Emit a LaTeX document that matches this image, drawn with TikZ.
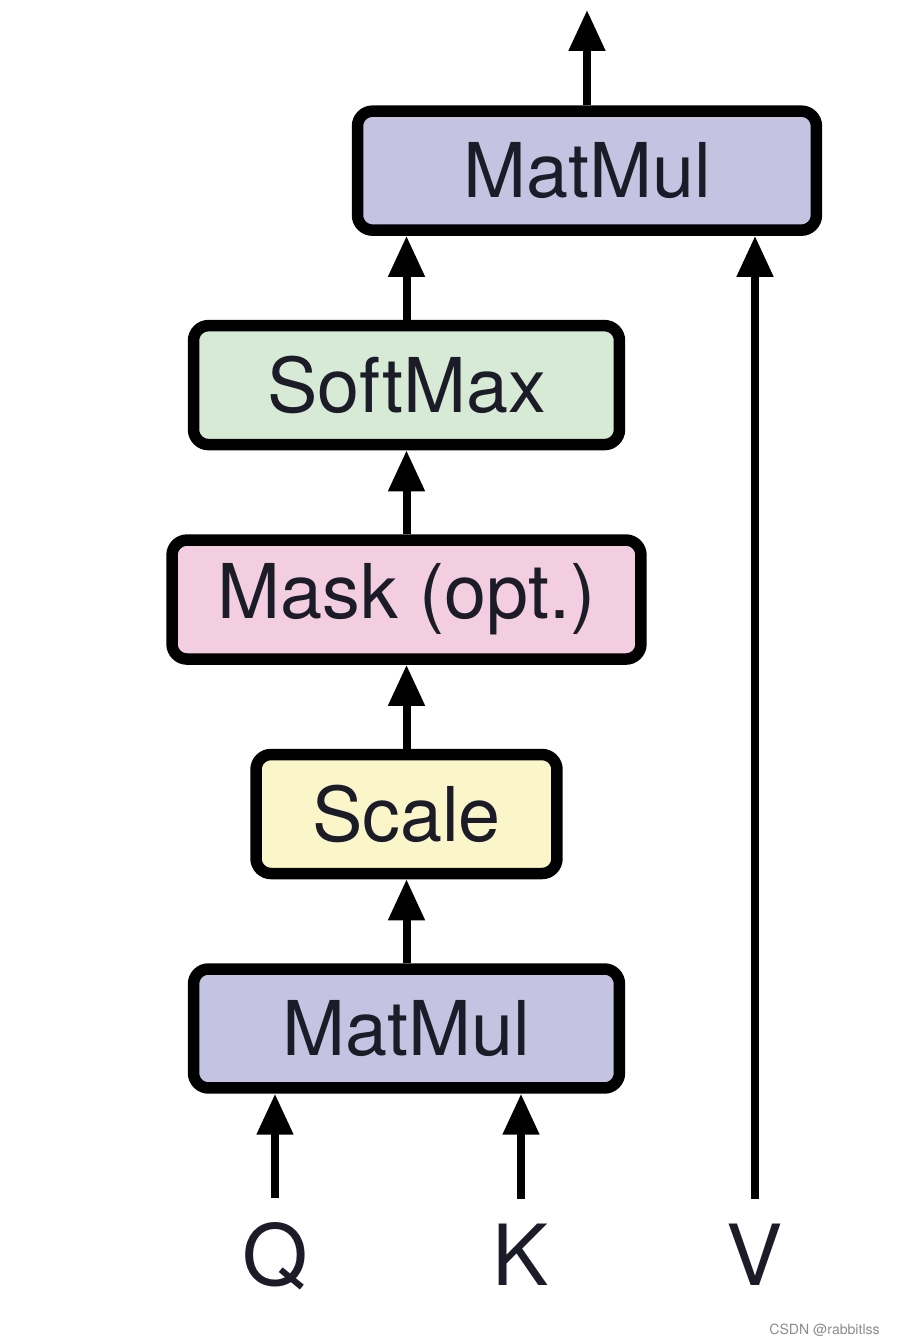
\documentclass[tikz,border=0pt]{standalone}
\usepackage{fontspec}
\setmainfont{TeX Gyre Heros}
\usepackage{tikz}
\usetikzlibrary{positioning,arrows.meta}

\definecolor{mmcol}{RGB}{196,195,226}
\definecolor{smcol}{RGB}{214,234,214}
\definecolor{mkcol}{RGB}{242,206,224}
\definecolor{sccol}{RGB}{251,246,202}
\definecolor{txtcol}{RGB}{28,28,40}

\tikzset{
	box/.style={draw=black,line width=0.23cm,rounded corners=0.3cm,minimum height=2.38cm,
		inner sep=0pt,text=txtcol,font=\fontsize{43}{50}\selectfont},
	arr/.style={line width=0.16cm,-{Triangle[width=0.7cm,length=0.82cm]}},
	inp/.style={inner sep=0.5cm,anchor=base,text=txtcol,font=\fontsize{48}{56}\selectfont}
}

\begin{document}
\begin{tikzpicture}[x=0.02cm,y=0.02cm]
		\useasboundingbox (0,0) rectangle (896,1344);
		\node(1) [box,fill=mmcol,minimum width=8.52cm] at (406.5,315.5) {MatMul};
		\node(2) [box,fill=sccol,minimum width=6.02cm,above=1.68cm of 1] {Scale};
		\node(3) [box,fill=mkcol,minimum width=9.38cm,above=1.68cm of 2] {Mask (opt.)};
		\node(4) [box,fill=smcol,minimum width=8.52cm,above=1.68cm of 3] {SoftMax};
		\node(5) [box,fill=mmcol,minimum width=9.18cm,above=1.68cm of 4,xshift=3.61cm] {MatMul};
		\node(q) [inp] at (275,58) {Q};
		\node(k) [inp] at (521,58) {K};
		\node(v) [inp] at (755,58) {V};
		\coordinate(out) at (587,1334);
		\path
			(1) edge[arr] (2)
			(2) edge[arr] (3)
			(3) edge[arr] (4)
			(4.north) edge[arr] (4.north |- 5.south)
			(q) edge[arr] (q |- 1.south)
			(k) edge[arr] (k |- 1.south)
			(v) edge[arr] (v |- 5.south)
			(5.north -| out) edge[arr] (out);
		\node(wm) [anchor=east,inner sep=0pt,text=black!45,font=\fontsize{8}{10}\selectfont] at (880,14) {CSDN @rabbitlss};
	\end{tikzpicture}
\end{document}
